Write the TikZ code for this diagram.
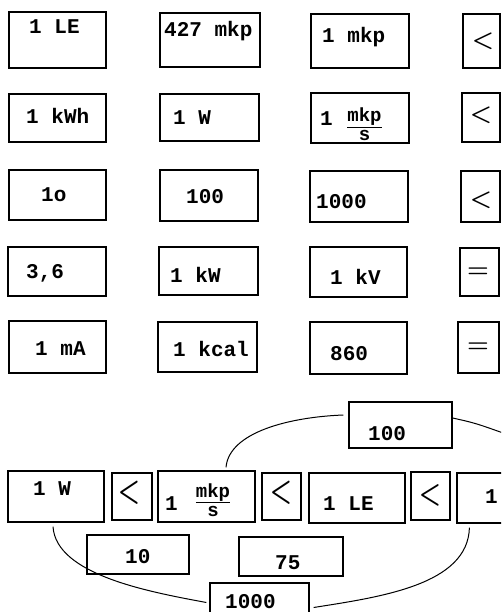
\documentclass[tikz,border=0pt]{standalone}
\usepackage{fontspec}
\setmonofont{Liberation Mono}
\usetikzlibrary{calc}
\begin{document}
\begin{tikzpicture}[x=1pt,y=-1pt,
  box/.style 2 args={draw, line width=1.2pt, inner sep=0, minimum width=#1, minimum height=#2},
  txt/.style={font=\ttfamily\bfseries\fontsize{21}{25}\selectfont, inner sep=0, anchor=base west},
  frac/.style={font=\ttfamily\bfseries\fontsize{19}{22}\selectfont, inner sep=0, align=center},
  sym/.style={font=\fontsize{30}{34}\selectfont\boldmath, inner sep=0},
  curve/.style={line width=1pt}]
\path[use as bounding box] (0,0) rectangle (501,612);
\fill[white] (0,0) rectangle (501,612);
\clip (0,0) rectangle (501,612);
% row 1
\node[box={97}{56}] (b11) at (57.5,40) {};
\node[box={100}{54}] (b12) at (210,40) {};
\node[box={98}{54}] (b13) at (360,41) {};
\node[box={37}{54}] (b14) at (481.5,41) {};
\node[txt] (t11) at (29,34) {1 LE};
\node[txt] (t12) at (164,37) {427 mkp};
\node[txt] (t13) at (322,43) {1 mkp};
\node[sym] (s14) at (483,41) {$<$};
% row 2
\node[box={97}{48}] (b21) at (57.5,118) {};
\node[box={99}{47}] (b22) at (209.5,117.5) {};
\node[box={98}{50}] (b23) at (360,118) {};
\node[box={38}{49}] (b24) at (481,117.5) {};
\node[txt] (t21) at (26,124) {1 kWh};
\node[txt] (t22) at (173,125) {1 W};
\node[txt] (t23) at (320,126) {1};
\node[frac] (f23) at (364.5,124.5) {\underline{mkp}\\[-3pt]s};
\node[sym] (s24) at (481,115) {$<$};
% row 3
\node[box={97}{50}] (b31) at (57.5,195) {};
\node[box={98}{51}] (b32) at (209,195.5) {};
\node[box={98}{51}] (b33) at (359,196.5) {};
\node[box={39}{51}] (b34) at (480.5,196.5) {};
\node[txt] (t31) at (41,202) {1o};
\node[txt] (t32) at (186,204) {100};
\node[txt] (t33) at (316,208) {1000};
\node[sym] (s34) at (481,200) {$<$};
% row 4
\node[box={98}{49}] (b41) at (57,271.5) {};
\node[box={99}{48}] (b42) at (208.5,271) {};
\node[box={97}{50}] (b43) at (358.5,272) {};
\node[box={39}{48}] (b44) at (479.5,272) {};
\node[txt] (t41) at (26,278) {3,6};
\node[txt] (t42) at (170,282) {1 kW};
\node[txt] (t43) at (330,284) {1 kV};
\node[sym] (s44) at (478,273) {$=$};
% row 5
\node[box={97}{52}] (b51) at (57.5,347) {};
\node[box={99}{50}] (b52) at (207.5,347) {};
\node[box={97}{52}] (b53) at (358.5,348) {};
\node[box={41}{51}] (b54) at (478.5,347.5) {};
\node[txt] (t51) at (35,355) {1 mA};
\node[txt] (t52) at (173,356) {1 kcal};
\node[txt] (t53) at (330,360) {860};
\node[sym] (s54) at (478,348) {$=$};
% bottom chain
\node[box={96}{51}] (c1) at (56,496.5) {};
\node[box={40}{47}] (c2) at (132,496.5) {};
\node[box={97}{51}] (c3) at (206.5,496.5) {};
\node[box={39}{47}] (c4) at (281.5,496.5) {};
\node[box={96}{50}] (c5) at (357,498) {};
\node[box={39}{48}] (c6) at (430.5,496) {};
\node[box={83}{50}] (c7) at (498.5,498) {};
\node[txt] (u1) at (33,495) {1 W};
\node[sym] (u2) at (129,493) {\scalebox{1}[1.4]{$<$}};
\node[txt] (u3) at (165,510) {1};
\node[frac] (g3) at (213,500) {\underline{mkp}\\[-3pt]s};
\node[sym] (u4) at (281,493) {\scalebox{1}[1.4]{$<$}};
\node[txt] (u5) at (323,510) {1 LE};
\node[sym] (u6) at (430,495) {\scalebox{1}[1.3]{$<$}};
\node[txt] (u7) at (485,503) {1};
% factor boxes
\node[box={103}{46}] (d100) at (400.5,425) {};
\node[box={102}{39}] (d10) at (138,554.5) {};
\node[box={104}{39}] (d75) at (291,556.5) {};
\node[box={99}{47}] (d1000) at (259.5,606.5) {};
\node[txt] (e100) at (368,440) {100};
\node[txt] (e10) at (125,563) {10};
\node[txt] (e75) at (275,569) {75};
\node[txt] (e1000) at (225,608) {1000};
% connectors
\coordinate (off) at (506,434);
\draw[curve] ($(c3.north)+(19.5,-3)$) .. controls (229,432) and (290,417) .. ($(d100.west)+(-5,-10)$);
\draw[curve] ($(d100.east)+(0,-7)$) .. controls (475,423) .. (off);
\draw[curve] ($(c1.south)+(-3,4)$) .. controls (56,575) and (150,592) .. ($(d1000.west)+(-3,-4)$);
\draw[curve] ($(c7.south west)+(13,4)$) .. controls (468,585) and (380,597) .. ($(d1000.east)+(4,1)$);
\end{tikzpicture}
\end{document}
